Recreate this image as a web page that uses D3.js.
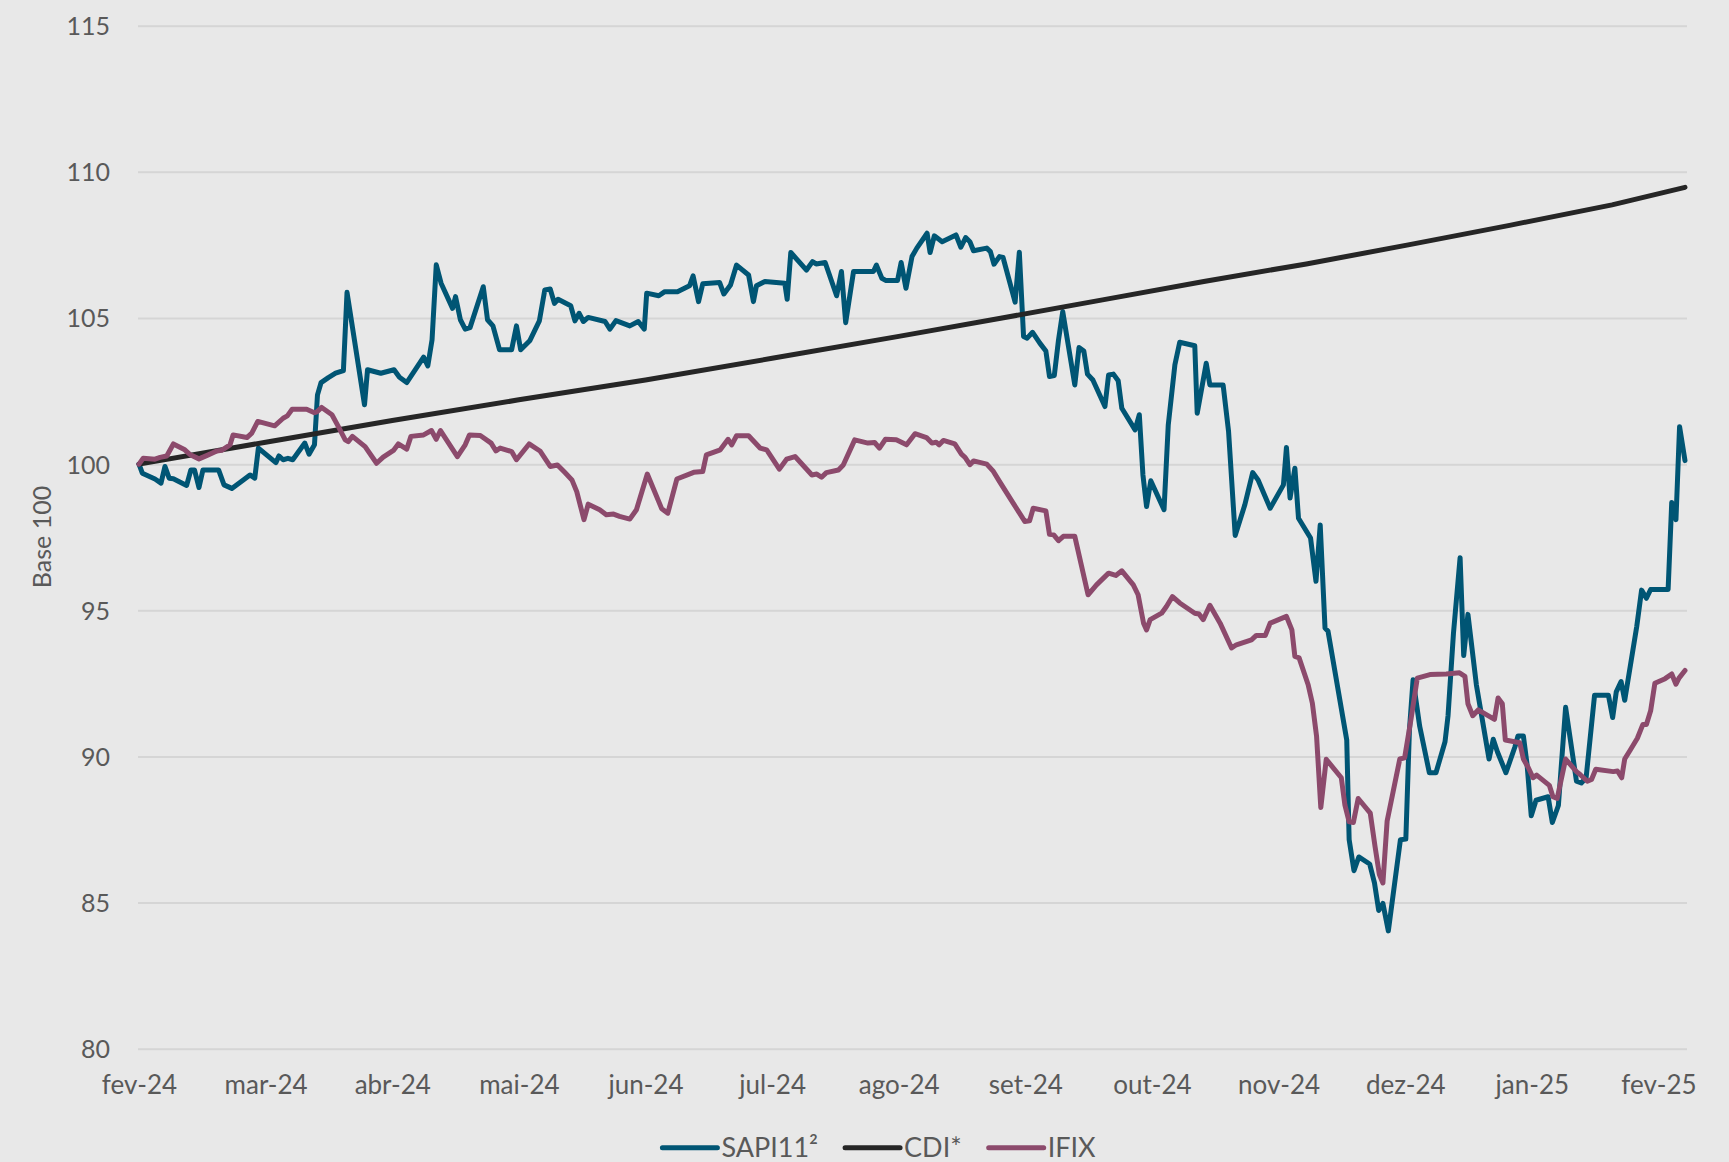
<!DOCTYPE html>
<html>
<head>
<meta charset="utf-8">
<script src="https://cdn.jsdelivr.net/npm/d3@7"></script>
<style>
  html, body { margin: 0; padding: 0; background: #e8e8e8; }
  svg { display: block; }
  text { font-family: Lato, "Noto Sans", sans-serif; fill: #595959; }
</style>
</head>
<body>
<svg id="chart" width="1729" height="1162"></svg>
<script>
// ---- DATA (trading-day index, value base 100) ----
const monthLabels = ["fev-24","mar-24","abr-24","mai-24","jun-24","jul-24","ago-24","set-24","out-24","nov-24","dez-24","jan-25","fev-25"];
const labelStep = 21;          // trading days between month labels
const lastIndex = 256.4;
const yTicks = [80, 85, 90, 95, 100, 105, 110, 115];
const seriesNames = ["SAPI11²", "CDI*", "IFIX"];
const seriesColors = ["#005574", "#262626", "#8c4a6c"];

const sapi = [[0,100.0],[0.55,99.69],[2.65,99.49],[3.65,99.35],[4.3,99.92],[5,99.52],[5.7,99.5],[7.9,99.27],[8.6,99.8],[9.2,99.8],[9.95,99.2],[10.6,99.8],[13.2,99.8],[14.1,99.29],[15.4,99.17],[17.3,99.46],[18.4,99.63],[19.2,99.52],[19.8,100.55],[22.7,100.05],[23.2,100.28],[23.9,100.15],[24.7,100.2],[25.5,100.15],[27.5,100.72],[28.2,100.34],[29.1,100.66],[29.6,102.37],[30.2,102.79],[31.4,102.96],[32.6,103.11],[33.9,103.2],[34.5,105.88],[37.4,102.03],[37.9,103.23],[40.1,103.11],[42.3,103.23],[43.2,102.97],[44.4,102.79],[47.2,103.66],[47.9,103.36],[48.6,104.25],[49.3,106.82],[50.1,106.19],[52,105.33],[52.5,105.73],[53.3,104.94],[54.1,104.62],[54.9,104.67],[57.1,106.07],[57.8,104.94],[58.7,104.73],[59.8,103.91],[61.8,103.91],[62.6,104.73],[63.3,103.91],[64.8,104.22],[66.4,104.9],[67.3,105.96],[68.2,105.99],
[68.9,105.5],[69.5,105.64],[71.6,105.42],[72.3,104.9],[73,105.16],[73.7,104.88],[74.5,105.02],[77.3,104.88],[78.1,104.62],[79.1,104.91],[81.4,104.73],[82.8,104.88],[83.8,104.62],[84.2,105.85],[86.2,105.76],[87.2,105.9],[89.3,105.9],[91.3,106.1],[91.9,106.44],[92.8,105.56],[93.5,106.17],[96.3,106.21],[97,105.82],[98.1,106.13],[99.1,106.81],[101.1,106.47],[101.9,105.56],[102.4,106.1],[103.8,106.25],[107.1,106.19],[107.5,105.64],[108.1,107.24],[110.7,106.64],[111.7,106.93],[112.3,106.85],[113.8,106.9],[115.7,105.76],[116.5,106.59],[117.2,104.84],[118.5,106.59],[121.8,106.59],[122.3,106.81],[123.2,106.36],[123.9,106.28],[125.8,106.28],[126.4,106.9],[127.2,106.02],[128.2,107.1],[129,107.39],[130.7,107.9],[131.2,107.24],[131.9,107.81],[133.2,107.61],
[135.5,107.84],[136.3,107.42],[137.1,107.75],[137.8,107.61],[138.4,107.3],[140.6,107.39],[141.2,107.27],[141.8,106.84],[142.7,107.1],[143.3,107.07],[145.3,105.54],[146,107.25],[146.7,104.37],[147.3,104.31],[148.2,104.51],[149.4,104.14],[150.4,103.87],[151,103.0],[151.8,103.03],[152.5,104.25],[153.2,105.22],[155.2,102.71],[155.9,103.99],[156.7,103.87],[157.3,103.08],[158.2,102.88],[160.2,101.97],[160.8,103.05],[161.6,103.08],[162.4,102.85],[163,101.91],[165.2,101.17],[165.9,101.69],[166.5,99.63],[167.1,98.55],[167.8,99.43],[170,98.44],[170.7,101.34],[171.8,103.4],[172.6,104.17],[175.1,104.05],[175.5,101.74],[177,103.45],[177.6,102.71],[179.8,102.71],[180.7,101.12],[181.8,97.56],[183.4,98.61],[184.7,99.71],[185.6,99.46],[187.6,98.49],[189.8,99.29],[190.3,100.57],[190.9,98.84],[191.7,99.86],[192.3,98.15],[194.3,97.47],[195.2,95.99],[195.9,97.92],[196.7,94.39],[197.2,94.28],
[200.3,90.56],[200.7,87.15],[201.5,86.09],[202.3,86.56],[204.1,86.32],[204.9,85.67],[205.6,84.73],[206.3,84.97],[207.2,84.03],[209.2,87.15],[210.1,87.17],[210.7,90.91],[211.3,92.62],[212.4,91.03],[214,89.44],[215.1,89.44],[216.6,90.5],[217.1,91.39],[218,94.21],[219.1,96.8],[219.7,93.45],[220.4,94.86],[221.8,92.45],[223.9,89.91],[224.6,90.59],[225.3,90.15],[226.7,89.44],[228.2,90.33],[228.7,90.7],[229.6,90.7],[230.2,89.74],[230.9,87.97],[231.7,88.5],[233.7,88.62],[234.4,87.74],[235.4,88.32],[236.6,91.68],[238.4,89.15],[239.2,89.09],[240,89.27],[241.4,92.09],[243.7,92.09],[244.4,91.33],[245,92.21],[245.8,92.56],[246.4,91.92],[248.4,94.45],[249.2,95.69],[250,95.41],[250.7,95.71],[253.6,95.71],[254.2,98.69],[254.9,98.1],[255.5,101.28],[256.4,100.12]];

const cdi = [[0,100],[21,100.75],[42,101.49],[63,102.2],[84,102.88],[105,103.62],[126,104.37],[142.9,104.99],[159.8,105.62],[176.6,106.25],[193.6,106.85],[210.5,107.5],[227.3,108.17],[244.3,108.87],[256.4,109.47]];

const ifix = [[0,100.0],[0.7,100.2],[2.65,100.17],[3.5,100.23],[4.6,100.28],[5.7,100.69],[7.6,100.49],[8.5,100.32],[9.95,100.18],[11.3,100.3],[12.9,100.45],[13.7,100.47],[15.1,100.66],[15.6,101.0],[17.9,100.91],[18.7,101.06],[19.7,101.46],[22.5,101.31],[23.9,101.57],[24.6,101.65],[25.4,101.88],[27.8,101.88],[29.1,101.76],[29.5,101.79],[30.3,101.94],[32,101.69],[33,101.31],[34.2,100.83],[34.7,100.77],[35.4,100.95],[37.5,100.6],[39.4,100.03],[40.5,100.24],[42.2,100.47],[43,100.69],[44.4,100.51],[45.1,100.95],[47.2,101.0],[48.5,101.15],[49.3,100.85],[50,101.15],[52.8,100.26],[54.1,100.66],[54.8,101.0],[56.6,100.98],[58.4,100.72],[59.2,100.45],[59.9,100.55],[61.8,100.43],[62.6,100.15],[64.7,100.69],[66.5,100.45],[68.2,99.92],
[69.4,99.97],[70.6,99.72],[71.8,99.46],[72.6,99.06],[73.1,98.66],[73.8,98.1],[74.5,98.63],[76.4,98.44],[77.5,98.27],[78.7,98.29],[79.7,98.21],[81.4,98.12],[82.5,98.44],[84.3,99.66],[86.7,98.47],[87.7,98.32],[89.2,99.49],[92,99.72],[93.5,99.75],[94.1,100.32],[96.4,100.49],[97.7,100.85],[98.3,100.66],[99.1,100.97],[101.1,100.97],[103,100.55],[104.1,100.49],[106.2,99.83],[107.4,100.17],[108.8,100.26],[111.6,99.63],[112.4,99.66],[113.2,99.55],[114,99.71],[116,99.8],[116.8,99.97],[118.7,100.83],[120.9,100.72],[122,100.74],[122.8,100.55],[123.8,100.85],[125.6,100.83],[127.3,100.66],[128.7,101.04],[130.6,100.91],[131.5,100.72],[132.2,100.75],[132.7,100.66],[133.4,100.81],
[135.3,100.69],[136.4,100.34],[137,100.23],[137.8,99.98],[138.4,100.11],[140.6,100.0],[141.7,99.75],[142.7,99.41],[145,98.66],[146.9,98.04],[147.7,98.06],[148.3,98.49],[150.4,98.4],[151,97.6],[151.7,97.58],[152.5,97.38],[153.3,97.53],[155.2,97.53],[157.4,95.53],[158.8,95.87],[160.8,96.27],[162,96.19],[163,96.35],[164.9,95.87],[165.7,95.53],[166.6,94.56],[167.1,94.33],[167.7,94.68],[169.6,94.9],[170.4,95.13],[171.4,95.47],[172.6,95.25],[175.1,94.9],[175.8,94.87],[176.5,94.68],[177.6,95.17],[179.3,94.56],[181.2,93.71],[182,93.82],[184.5,93.99],[185.3,94.14],[186.8,94.14],[187.6,94.56],[190.3,94.79],[191.2,94.33],[191.7,93.42],[192.4,93.37],[193.9,92.45],[194.6,91.82],[195.3,90.68],[196.0,88.25],[196.9,89.9],[199.4,89.27],[200,88.33],[200.7,87.76],[201.4,87.74],[202.2,88.56],[204.2,88.06],[205,86.91],[205.7,85.97],[206.3,85.67],[207,87.79],[208,88.8],[209.1,89.91],[209.9,89.95],[211,91.33],[212,92.68],[214.1,92.8],[216.8,92.82],[219,92.86],[219.9,92.74],[220.4,91.8],[221.2,91.39],[222.1,91.59],[224.8,91.27],[225.4,92.0],[226.1,91.8],[226.6,90.56],[229,90.47],[229.6,89.91],[230.4,89.62],[231.2,89.27],[231.8,89.36],[233.9,89.01],[234.5,88.62],[235.2,88.56],[236.6,89.91],[238.4,89.48],[239,89.38],[240.2,89.15],[240.9,89.21],[241.6,89.56],[244.5,89.48],[245.2,89.5],[245.9,89.27],[246.4,89.91],[247.3,90.21],[248.5,90.62],[249.4,91.09],[250,91.09],[250.7,91.56],[251.4,92.5],[253.1,92.66],[254.2,92.82],[254.9,92.47],[255.4,92.68],[256.4,92.94]];

// ---- LAYOUT ----
const svg = d3.select("#chart");
const gridLeft = 138, gridRight = 1687;
const yTop = 25.7, yBottom = 1048.7;

const x = d3.scaleLinear().domain([0, lastIndex]).range([139, 1685]);
const y = d3.scaleLinear().domain([80, 115]).range([yBottom, yTop]);

// y axis with gridlines
const yAxis = d3.axisLeft(y)
  .tickValues(yTicks)
  .tickSize(-(gridRight - gridLeft))
  .tickPadding(28)
  .tickFormat(d3.format("d"));
const gy = svg.append("g").attr("transform", `translate(${gridLeft},0)`).call(yAxis);
gy.select(".domain").remove();
gy.selectAll(".tick line").attr("stroke", "#d5d5d5").attr("stroke-width", 2);
gy.selectAll(".tick text")
  .attr("font-size", 25).attr("fill", "#595959")
  .attr("dy", "0.36em")
  .style("font-family", "Lato, 'Noto Sans', sans-serif");

// x axis
const xAxis = d3.axisBottom(x)
  .tickValues(monthLabels.map((_, i) => i * labelStep))
  .tickSize(0)
  .tickPadding(27)
  .tickFormat((d, i) => monthLabels[i]);
const gx = svg.append("g").attr("transform", `translate(0,${yBottom})`).call(xAxis);
gx.select(".domain").remove();
gx.selectAll(".tick text")
  .attr("font-size", 26).attr("fill", "#595959")
  .style("font-family", "Lato, 'Noto Sans', sans-serif");

// y title
svg.append("text")
  .attr("transform", "translate(51,537) rotate(-90)")
  .attr("text-anchor", "middle")
  .attr("font-size", 25)
  .text("Base 100");

// lines
const line = d3.line().x(d => x(d[0])).y(d => y(d[1]));
const allSeries = [sapi, cdi, ifix];
allSeries.forEach((s, i) => {
  svg.append("path")
    .datum(s)
    .attr("fill", "none")
    .attr("stroke", seriesColors[i])
    .attr("stroke-width", 5)
    .attr("stroke-linejoin", "round")
    .attr("stroke-linecap", "round")
    .attr("d", line);
});

// legend
const legend = svg.append("g");
const lineLen = 55, textGap = 4, itemGap = 27, legendCenter = 879;
const legendLineY = 1147.7, legendTextY = 1157;
let cursor = 0;
const items = [];
seriesNames.forEach((name, i) => {
  const g = legend.append("g");
  g.append("line")
    .attr("x1", 0).attr("x2", lineLen)
    .attr("y1", legendLineY).attr("y2", legendLineY)
    .attr("stroke", seriesColors[i]).attr("stroke-width", 5)
    .attr("stroke-linecap", "round");
  const t = g.append("text")
    .attr("x", lineLen + textGap).attr("y", legendTextY)
    .attr("font-size", 27)
    .text(name);
  const w = lineLen + textGap + t.node().getComputedTextLength();
  items.push({ g, w });
});
const total = d3.sum(items, d => d.w) + itemGap * (items.length - 1);
cursor = legendCenter - total / 2;
items.forEach(it => {
  it.g.attr("transform", `translate(${cursor},0)`);
  cursor += it.w + itemGap;
});
</script>
</body>
</html>
